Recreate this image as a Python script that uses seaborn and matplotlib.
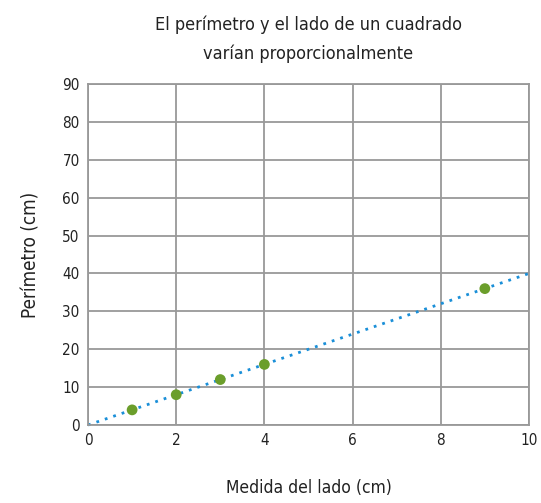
import matplotlib
matplotlib.use("Agg")
import matplotlib.pyplot as plt
import seaborn as sns
import pandas as pd
from matplotlib import font_manager

# data
lado = [1, 2, 3, 4, 9]
perimetro = [4, 8, 12, 16, 36]
linea_x = [0, 10]
linea_y = [0, 40]
x_ticks = [0, 2, 4, 6, 8, 10]
y_ticks = [0, 10, 20, 30, 40, 50, 60, 70, 80, 90]

sns.set_theme(style="white")
# narrow face if one is installed
cond = [f for f in font_manager.fontManager.ttflist if "ondensed" in f.fname]
stretch = "condensed" if any(f.name == "DejaVu Sans" for f in cond) else "normal"
plt.rcParams["font.family"] = ["DejaVu Sans"]
plt.rcParams["font.stretch"] = stretch

df = pd.DataFrame({"lado": lado, "perimetro": perimetro})
df_line = pd.DataFrame({"x": linea_x, "y": linea_y})

fig = plt.figure(figsize=(5.41, 5.03), dpi=100)
ax = fig.add_axes([0.1627, 0.155, 0.815, 0.678])

ax.set_xlim(0, 10)
ax.set_ylim(0, 90)
ax.set_xticks(x_ticks)
ax.set_yticks(y_ticks)
ax.grid(True, color="#999999", linewidth=1.3)
ax.set_axisbelow(True)
for s in ax.spines.values():
    s.set_color("#999999")
    s.set_linewidth(1.3)

sns.lineplot(data=df_line, x="x", y="y", ax=ax, color="#1a8fd8",
             linestyle=(0, (1, 2.2)), linewidth=2, clip_on=False)
sns.scatterplot(data=df, x="lado", y="perimetro", ax=ax, color="#6b9e2b",
                s=60, edgecolor="none", zorder=3)

ax.tick_params(axis="both", which="both", length=0, labelsize=11,
               labelcolor="#222222", pad=6)
ax.set_xlabel("Medida del lado (cm)", fontsize=12.5, color="#222222", labelpad=22)
ax.set_ylabel("Perímetro (cm)", fontsize=13.5, color="#222222", labelpad=16)
ax.set_title("El perímetro y el lado de un cuadrado\nvarían proporcionalmente",
             fontsize=13, color="#222222", pad=18, linespacing=1.75)

fig.savefig("out.png", dpi=100)
